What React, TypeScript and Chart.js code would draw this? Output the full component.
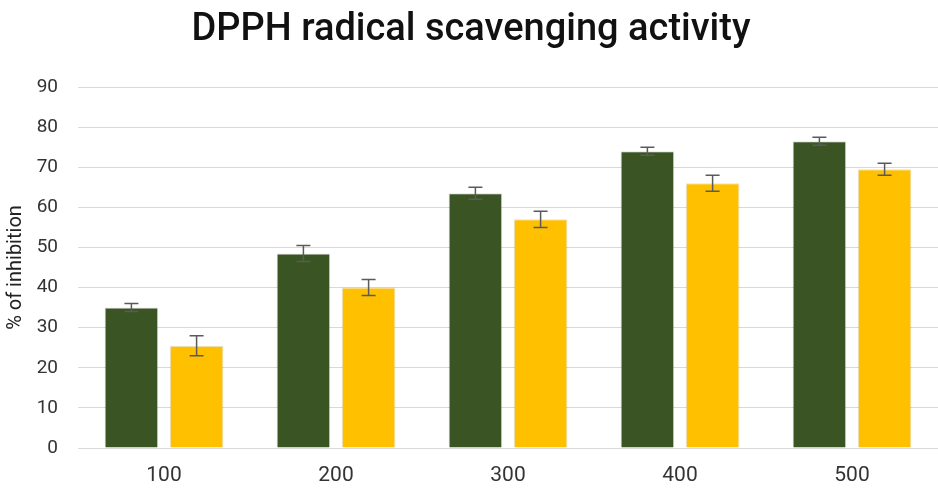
import React, { useEffect, useRef } from "react";
import { Chart, registerables } from "chart.js";

Chart.register(...registerables);

const categories = ["100", "200", "300", "400", "500"];
const greenValues = [35, 48.5, 63.5, 74, 76.5];
const greenErrors = [1, 2, 1.5, 1, 1];
const yellowValues = [25.5, 40, 57, 66, 69.5];
const yellowErrors = [2.5, 2, 2, 2, 1.5];
const errorsBySeries = [greenErrors, yellowErrors];

const errorBarPlugin = {
  id: "errorBars",
  afterDatasetsDraw(chart: any) {
    const ctx = chart.ctx;
    const yScale = chart.scales.y;
    ctx.save();
    ctx.strokeStyle = "#5a5a5a";
    ctx.lineWidth = 1.5;
    chart.data.datasets.forEach((ds: any, di: number) => {
      const meta = chart.getDatasetMeta(di);
      const errs = errorsBySeries[di];
      meta.data.forEach((bar: any, i: number) => {
        const v = ds.data[i];
        const e = errs[i];
        const yTop = yScale.getPixelForValue(v + e);
        const yBot = yScale.getPixelForValue(v - e);
        const x = bar.x;
        const cap = 7;
        ctx.beginPath();
        ctx.moveTo(x, yTop);
        ctx.lineTo(x, yBot);
        ctx.moveTo(x - cap, yTop);
        ctx.lineTo(x + cap, yTop);
        ctx.moveTo(x - cap, yBot);
        ctx.lineTo(x + cap, yBot);
        ctx.stroke();
      });
    });
    ctx.restore();
  },
};

export default function App() {
  const ref = useRef<HTMLCanvasElement>(null);
  useEffect(() => {
    if (!ref.current) return;
    const chart = new Chart(ref.current, {
      type: "bar",
      data: {
        labels: categories,
        datasets: [
          {
            label: "Series 1",
            data: greenValues,
            backgroundColor: "#3a5523",
            borderColor: "rgba(0,0,0,0.12)",
            borderWidth: 1,
            categoryPercentage: 0.758,
            barPercentage: 0.824,
          },
          {
            label: "Series 2",
            data: yellowValues,
            backgroundColor: "#ffc000",
            borderColor: "rgba(0,0,0,0.12)",
            borderWidth: 1,
            categoryPercentage: 0.758,
            barPercentage: 0.824,
          },
        ],
      },
      options: {
        animation: false,
        responsive: false,
        layout: { padding: { left: 0, right: -4, top: 0, bottom: 0 } },
        plugins: {
          legend: { display: false },
          tooltip: { enabled: false },
          title: {
            display: true,
            text: "DPPH radical scavenging activity",
            color: "#111111",
            font: { family: "Roboto", size: 38, weight: "500" },
            padding: { top: 8, bottom: 33.4 },
          },
        },
        scales: {
          x: {
            afterFit: (s: any) => {
              s.height = 40;
            },
            grid: { display: false, drawTicks: false },
            border: { display: true, color: "#d9d9d9", width: 1 },
            ticks: {
              color: "#333333",
              padding: 15,
              font: { family: "Roboto", size: 21 },
            },
          },
          y: {
            min: 0,
            max: 90,
            afterFit: (s: any) => {
              s.width = 78;
            },
            grid: { color: "#d9d9d9", lineWidth: 1, drawTicks: false },
            border: { display: false },
            ticks: {
              stepSize: 10,
              color: "#333333",
              padding: 20,
              font: { family: "Roboto", size: 19 },
            },
            title: {
              display: true,
              text: "% of inhibition",
              color: "#222222",
              font: { family: "Roboto", size: 20 },
              padding: { top: 4, bottom: 0 },
            },
          },
        },
      },
      plugins: [errorBarPlugin],
    });
    return () => chart.destroy();
  }, []);
  return (
    <div style={{ position: "fixed", left: 0, top: 0, width: 938, height: 488, background: "#fff" }}>
      <canvas ref={ref} width={938} height={488} />
    </div>
  );
}
